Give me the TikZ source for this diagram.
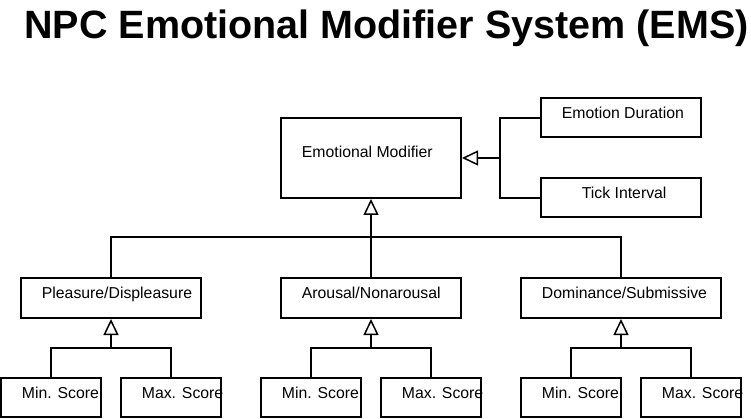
\documentclass[tikz,border=0pt]{standalone}
\usepackage{fontspec}
\setmainfont{Liberation Sans}
\usetikzlibrary{arrows.meta}

\begin{document}
\begin{tikzpicture}[x=1pt,y=-1pt,
  box/.style={draw,line width=2pt,inner sep=0pt,minimum height=39pt},
  lbl/.style={anchor=base west,inner sep=0pt,font=\fontsize{15.8}{18}\selectfont},
  link/.style={line width=2pt},
  inh/.style={line width=2pt,-{Triangle[open,length=16pt,width=15pt,line width=1.5pt]}}]
  \useasboundingbox (0,0) rectangle (751,419);
  \node[anchor=base,inner sep=0pt,font=\bfseries\fontsize{39.5}{42}\selectfont] (title) at (386.5,39) {NPC Emotional Modifier System (EMS)};
  \node[box,minimum width=180pt,minimum height=80pt] (em) at (371,158) {};
  \node[lbl] (emt) at ([shift={(21.7,40.5)}]em.north west) {Emotional Modifier};
  \node[box,minimum width=160pt] (ed) at (621,118) {};
  \node[lbl] (edt) at ([shift={(21.7,21.5)}]ed.north west) {Emotion Duration};
  \node[box,minimum width=160pt] (ti) at (621,198) {};
  \node[lbl] (tit) at ([shift={(41.7,21)}]ti.north west) {Tick Interval};
  \node[box,minimum width=180pt,minimum height=40pt] (pd) at (111,298) {};
  \node[lbl] (pdt) at ([shift={(21.7,21.5)}]pd.north west) {Pleasure/Displeasure};
  \node[box,minimum width=180pt,minimum height=40pt] (an) at (371,298) {};
  \node[lbl] (ant) at ([shift={(21.7,21.5)}]an.north west) {Arousal/Nonarousal};
  \node[box,minimum width=200pt,minimum height=40pt] (ds) at (621,298) {};
  \node[lbl] (dst) at ([shift={(21.7,21.5)}]ds.north west) {Dominance/Submissive};
  \node[box,minimum width=100pt] (pdmin) at (51,397) {};
  \node[lbl] (pdmint) at ([shift={(21.7,21.5)}]pdmin.north west) {Min. Score};
  \node[box,minimum width=100pt] (pdmax) at (171,397) {};
  \node[lbl] (pdmaxt) at ([shift={(21.7,21.5)}]pdmax.north west) {Max. Score};
  \node[box,minimum width=100pt] (anmin) at (311,397) {};
  \node[lbl] (anmint) at ([shift={(21.7,21.5)}]anmin.north west) {Min. Score};
  \node[box,minimum width=100pt] (anmax) at (431,397) {};
  \node[lbl] (anmaxt) at ([shift={(21.7,21.5)}]anmax.north west) {Max. Score};
  \node[box,minimum width=100pt] (dsmin) at (571,397) {};
  \node[lbl] (dsmint) at ([shift={(21.7,21.5)}]dsmin.north west) {Min. Score};
  \node[box,minimum width=100pt] (dsmax) at (691,397) {};
  \node[lbl] (dsmaxt) at ([shift={(21.7,21.5)}]dsmax.north west) {Max. Score};
  \coordinate (emr) at (500,158);
  \coordinate (emj) at (371,237);
  \coordinate (pdj) at (111,348);
  \coordinate (anj) at (371,348);
  \coordinate (dsj) at (621,348);
  \draw[inh] (emr) -- (em.east);
  \draw[link] (ed.west) -| (emr) |- (ti.west);
  \draw[inh] (emj) -- (em.south);
  \draw[link] (pd.north) |- (emj) -| (ds.north);
  \draw[link] (emj) -- (an.north);
  \draw[inh] (pdj) -- (pd.south);
  \draw[link] (pdmin.north) |- (pdj) -| (pdmax.north);
  \draw[inh] (anj) -- (an.south);
  \draw[link] (anmin.north) |- (anj) -| (anmax.north);
  \draw[inh] (dsj) -- (ds.south);
  \draw[link] (dsmin.north) |- (dsj) -| (dsmax.north);
\end{tikzpicture}
\end{document}
